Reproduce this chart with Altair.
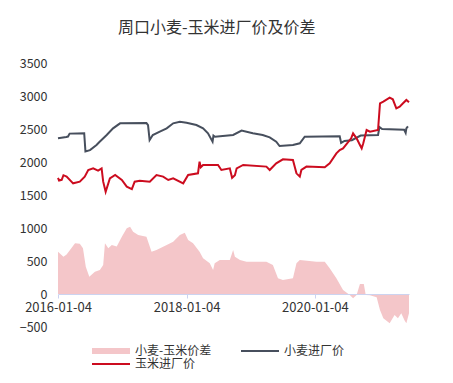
import altair as alt
import pandas as pd

# 小麦进厂价
wheat_dates = ["2016-01-04","2016-02-20","2016-03-01","2016-03-10","2016-06-01","2016-06-08","2016-07-04",
    "2016-08-10","2016-08-25","2016-10-07","2016-11-12","2016-12-22","2017-05-21","2017-05-30","2017-06-08",
    "2017-06-26","2017-08-05","2017-09-13","2017-10-20","2017-11-27","2018-01-04","2018-03-01","2018-04-08",
    "2018-05-06","2018-06-01","2018-06-06","2018-06-15","2018-09-26","2018-11-13","2019-01-16","2019-03-13",
    "2019-04-22","2019-05-29","2019-06-17","2019-09-01","2019-10-10","2019-11-07","2020-05-24","2020-06-01",
    "2020-06-20","2020-08-01","2020-09-20","2020-12-28","2021-01-05","2021-01-20","2021-05-25","2021-06-03",
    "2021-06-07","2021-06-16"]
wheat_values = [2360,2380,2385,2430,2435,2160,2180,
    2258,2300,2409,2510,2586,2590,2560,2333,
    2409,2460,2510,2586,2611,2595,2560,2510,
    2435,2308,2400,2383,2409,2475,2435,2409,
    2373,2308,2242,2258,2283,2383,2390,2290,
    2320,2330,2400,2410,2530,2500,2490,2440,
    2510,2540]

# 玉米进厂价
corn_dates = ["2016-01-04","2016-01-10","2016-01-25","2016-02-04","2016-02-22","2016-03-30","2016-05-07",
    "2016-06-04","2016-06-24","2016-07-22","2016-08-19","2016-09-08","2016-09-17","2016-10-01","2016-10-25",
    "2016-11-24","2017-01-01","2017-01-29","2017-02-27","2017-03-15","2017-04-13","2017-06-09","2017-07-17",
    "2017-08-24","2017-09-22","2017-10-20","2017-12-16","2018-01-13","2018-03-10","2018-03-19","2018-03-26",
    "2018-04-08","2018-07-02","2018-07-21","2018-09-07","2018-09-20","2018-10-06","2018-10-16","2018-11-22",
    "2019-04-03","2019-04-22","2019-05-29","2019-07-06","2019-09-01","2019-09-21","2019-10-10","2019-10-19",
    "2019-11-17","2020-02-29","2020-03-28","2020-05-05","2020-05-24","2020-06-12","2020-07-05","2020-07-28",
    "2020-08-08","2020-08-28","2020-09-16","2020-09-26","2020-10-05","2020-10-24","2020-11-12","2020-12-28",
    "2021-01-08","2021-01-27","2021-03-04","2021-03-22","2021-04-11","2021-04-30","2021-05-19","2021-06-07",
    "2021-06-22"]
corn_values = [1760,1720,1730,1800,1780,1677,1702,
    1778,1879,1904,1870,1904,1702,1550,1752,
    1803,1727,1626,1590,1702,1717,1702,1803,
    1778,1727,1752,1677,1803,1828,2005,1920,
    1955,1955,1879,1904,1760,1800,1904,1955,
    1930,1879,1980,2040,2030,1828,1778,1879,
    1930,1920,1980,2131,2182,2207,2283,2359,
    2434,2359,2258,2207,2283,2485,2460,2485,
    2889,2914,2975,2950,2813,2838,2889,2940,
    2905]

# 小麦-玉米价差
spread_dates = ["2016-01-04","2016-02-04","2016-02-22","2016-04-10","2016-05-07","2016-05-25","2016-06-10",
    "2016-06-30","2016-08-01","2016-08-29","2016-09-17","2016-09-27","2016-10-16","2016-11-05","2016-12-03",
    "2017-01-01","2017-01-29","2017-02-17","2017-03-06","2017-04-04","2017-05-21","2017-06-19","2017-07-17",
    "2017-09-13","2017-10-20","2017-11-27","2017-12-25","2018-01-13","2018-02-10","2018-03-19","2018-04-08",
    "2018-05-16","2018-06-04","2018-06-13","2018-07-12","2018-09-07","2018-09-26","2018-10-06","2018-11-04",
    "2018-12-11","2019-04-03","2019-05-10","2019-06-08","2019-07-06","2019-09-01","2019-09-21","2019-10-10",
    "2020-01-13","2020-02-29","2020-03-28","2020-05-05","2020-06-12","2020-07-20","2020-08-08","2020-08-28",
    "2020-09-16","2020-10-08","2020-10-19","2020-11-12","2020-12-20","2021-01-08","2021-01-27","2021-03-04",
    "2021-04-01","2021-04-20","2021-05-09","2021-05-28","2021-06-07","2021-06-22"]
spread_values = [641,565,600,768,760,692,414,
    263,338,364,439,770,692,742,720,
    868,995,1020,944,894,868,641,667,
    742,793,894,929,818,768,641,540,
    465,364,465,515,515,667,565,515,
    490,490,439,237,212,237,465,515,
    490,490,389,237,61,-15,-66,-15,
    151,151,-15,-20,-50,-242,-368,-444,
    -318,-368,-293,-400,-444,-293]

# legend order (filled column by column): 价差, 玉米 | 小麦
series_names = ["小麦-玉米价差", "玉米进厂价", "小麦进厂价"]
series_colors = ["#f4c6c9", "#cc0c1f", "#474f5d"]
y_ticks = [-500, 0, 500, 1000, 1500, 2000, 2500, 3000, 3500]

FONT = "Noto Sans CJK SC"

wheat_df = pd.DataFrame({"date": wheat_dates, "value": wheat_values, "series": "小麦进厂价"})
corn_df = pd.DataFrame({"date": corn_dates, "value": corn_values, "series": "玉米进厂价"})
spread_df = pd.DataFrame({"date": spread_dates, "value": spread_values, "series": "小麦-玉米价差"})

x_scale = alt.Scale(type="utc",
                    domain=[alt.DateTime(year=2016, month=1, date=4, utc=True),
                            alt.DateTime(year=2021, month=6, date=22, utc=True)])
y_scale = alt.Scale(domain=[-500, 3500], nice=False, zero=False)

color = alt.Color("series:N",
                  scale=alt.Scale(domain=series_names, range=series_colors),
                  legend=alt.Legend(title=None, orient="none", legendX=34, legendY=282,
                                    columns=2, columnPadding=29, rowPadding=1, clipHeight=12,
                                    symbolType="stroke", symbolSize=1444, symbolOffset=13,
                                    symbolStrokeWidth=alt.ExprRef("datum.label == '小麦-玉米价差' ? 6 : 2"),
                                    labelFont=FONT, labelFontSize=12, labelColor="#333333",
                                    labelOffset=18, labelLimit=200))

x_enc = alt.X("date:T", scale=x_scale, title=None,
              axis=alt.Axis(values=[alt.DateTime(year=2016, month=1, date=4, utc=True),
                                    alt.DateTime(year=2018, month=1, date=4, utc=True),
                                    alt.DateTime(year=2020, month=1, date=4, utc=True)],
                            format="%Y-%m-%d", offset=-33, grid=False,
                            domainColor="#ccd3f0", tickColor="#ccd3f0", tickSize=4,
                            labelPadding=3, labelFont=FONT, labelFontSize=13,
                            labelColor="#333333", labelFlush=False, zindex=1))
y_enc = alt.Y("value:Q", scale=y_scale, title=None,
              axis=alt.Axis(values=y_ticks, format="d", grid=False, domain=False, ticks=False,
                            labelPadding=11, labelFont=FONT, labelFontSize=12.5,
                            labelColor="#333333"))

area = alt.Chart(spread_df).mark_area(opacity=1).encode(x=x_enc, y=y_enc, color=color)
wheat = alt.Chart(wheat_df).mark_line(strokeWidth=2).encode(x=x_enc, y=y_enc, color=color)
corn = alt.Chart(corn_df).mark_line(strokeWidth=2).encode(x=x_enc, y=y_enc, color=color)

chart = alt.layer(area, wheat, corn).properties(
    width=351, height=264,
    title=alt.Title("周口小麦-玉米进厂价及价差", anchor="start", frame="group", dx=60, offset=21,
                    font=FONT, fontSize=16, fontWeight="normal", color="#333333"),
    autosize=alt.AutoSizeParams(type="none"),
    padding={"left": 50, "top": 55, "right": 36, "bottom": 48},
).configure_view(stroke=None)

chart.save("out.html", embed_options={"renderer": "svg", "actions": False})
